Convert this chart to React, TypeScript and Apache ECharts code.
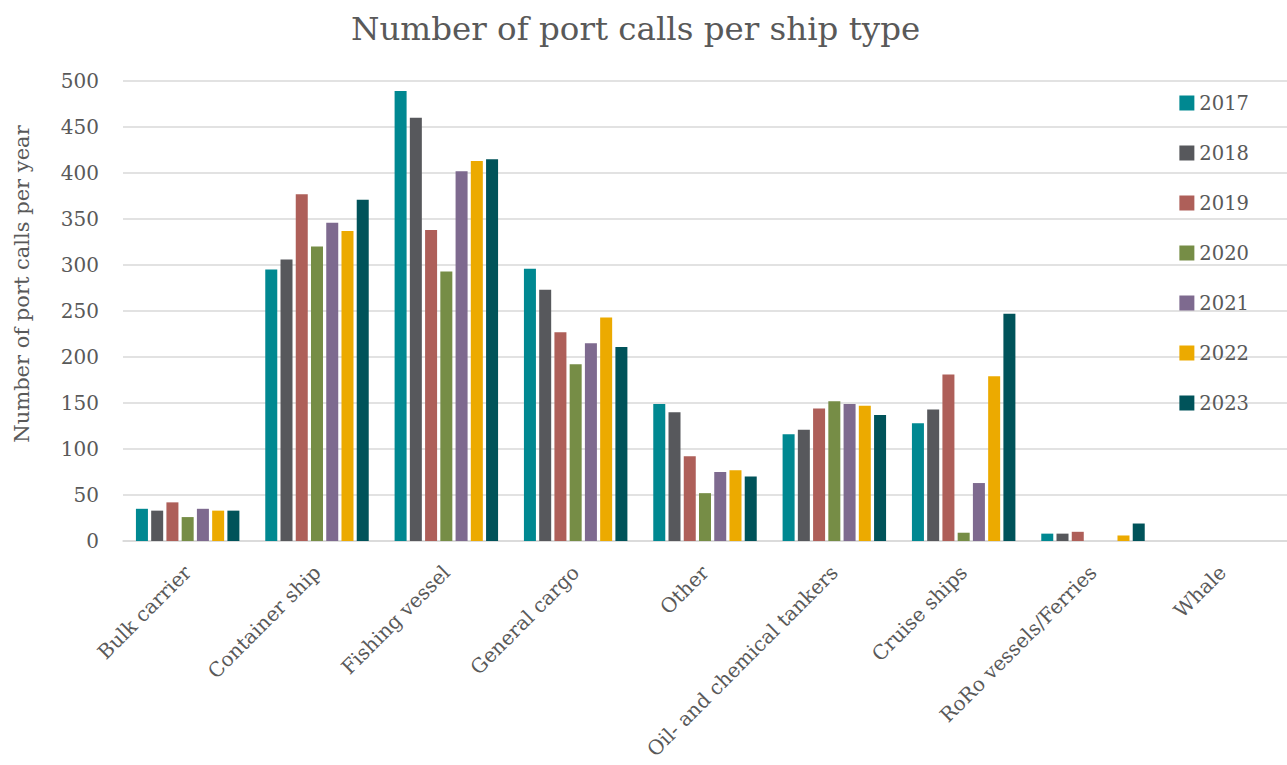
import React, { useEffect, useRef } from "react";
import * as echarts from "echarts";

const categories = [
  "Bulk carrier",
  "Container ship",
  "Fishing vessel",
  "General cargo",
  "Other",
  "Oil- and chemical tankers",
  "Cruise ships",
  "RoRo vessels/Ferries",
  "Whale",
];
const years = ["2017", "2018", "2019", "2020", "2021", "2022", "2023"];
const colors = ["#008891", "#57585c", "#ae5f59", "#768d46", "#7e6a8f", "#ecaa00", "#00535a"];

const v2017 = [35, 295, 489, 296, 149, 116, 128, 8, 0];
const v2018 = [33, 306, 460, 273, 140, 121, 143, 8, 0];
const v2019 = [42, 377, 338, 227, 92, 144, 181, 10, 0];
const v2020 = [26, 320, 293, 192, 52, 152, 9, 0, 0];
const v2021 = [35, 346, 402, 215, 75, 149, 63, 0, 0];
const v2022 = [33, 337, 413, 243, 77, 147, 179, 6, 0];
const v2023 = [33, 371, 415, 211, 70, 137, 247, 19, 0];
const seriesValues = [v2017, v2018, v2019, v2020, v2021, v2022, v2023];

const FONT = "DejaVu Serif";
const TEXT = "#595959";

export default function App() {
  const ref = useRef<HTMLDivElement>(null);
  useEffect(() => {
    document.body.style.margin = "0";
    if (!ref.current) return;
    const chart = echarts.init(ref.current, undefined, { renderer: "svg" });
    chart.setOption({
      animation: false,
      backgroundColor: "#ffffff",
      color: colors,
      title: {
        text: "Number of port calls per ship type",
        left: 346,
        top: 7,
        textStyle: { fontFamily: FONT, fontSize: 32.5, fontWeight: "normal", color: TEXT },
      },
      legend: {
        orient: "vertical",
        right: 33,
        top: 88,
        itemWidth: 15,
        itemHeight: 15,
        itemGap: 30,
        icon: "rect",
        textStyle: { fontFamily: FONT, fontSize: 19.5, color: TEXT },
        data: years,
      },
      graphic: [
        {
          type: "text",
          x: 22,
          y: 284,
          rotation: Math.PI / 2,
          style: {
            text: "Number of port calls per year",
            fontFamily: FONT,
            fontSize: 21,
            fill: TEXT,
            align: "center",
            verticalAlign: "middle",
          },
        },
      ],
      grid: {
        left: 123,
        right: 0,
        top: 81,
        bottom: 224,
        containLabel: false,
        outerBoundsMode: "none",
      },
      xAxis: {
        type: "category",
        data: categories,
        axisLine: { lineStyle: { color: "#d9d9d9", width: 1.5 } },
        axisTick: { show: false },
        axisLabel: {
          rotate: 45,
          interval: 0,
          fontFamily: FONT,
          fontSize: 20,
          color: TEXT,
          margin: 28,
        },
      },
      yAxis: {
        type: "value",
        min: 0,
        max: 500,
        interval: 50,
        axisLine: { show: false },
        axisTick: { show: false },
        splitLine: { lineStyle: { color: "#d9d9d9", width: 1.5 } },
        axisLabel: { fontFamily: FONT, fontSize: 20, color: TEXT, margin: 24 },
      },
      series: years.map((y, i) => ({
        name: y,
        type: "bar",
        data: seriesValues[i],
        barGap: "27%",
        barCategoryGap: "20%",
        itemStyle: { color: colors[i] },
      })),
    });
    return () => chart.dispose();
  }, []);
  return <div ref={ref} style={{ width: 1287, height: 765 }} />;
}
